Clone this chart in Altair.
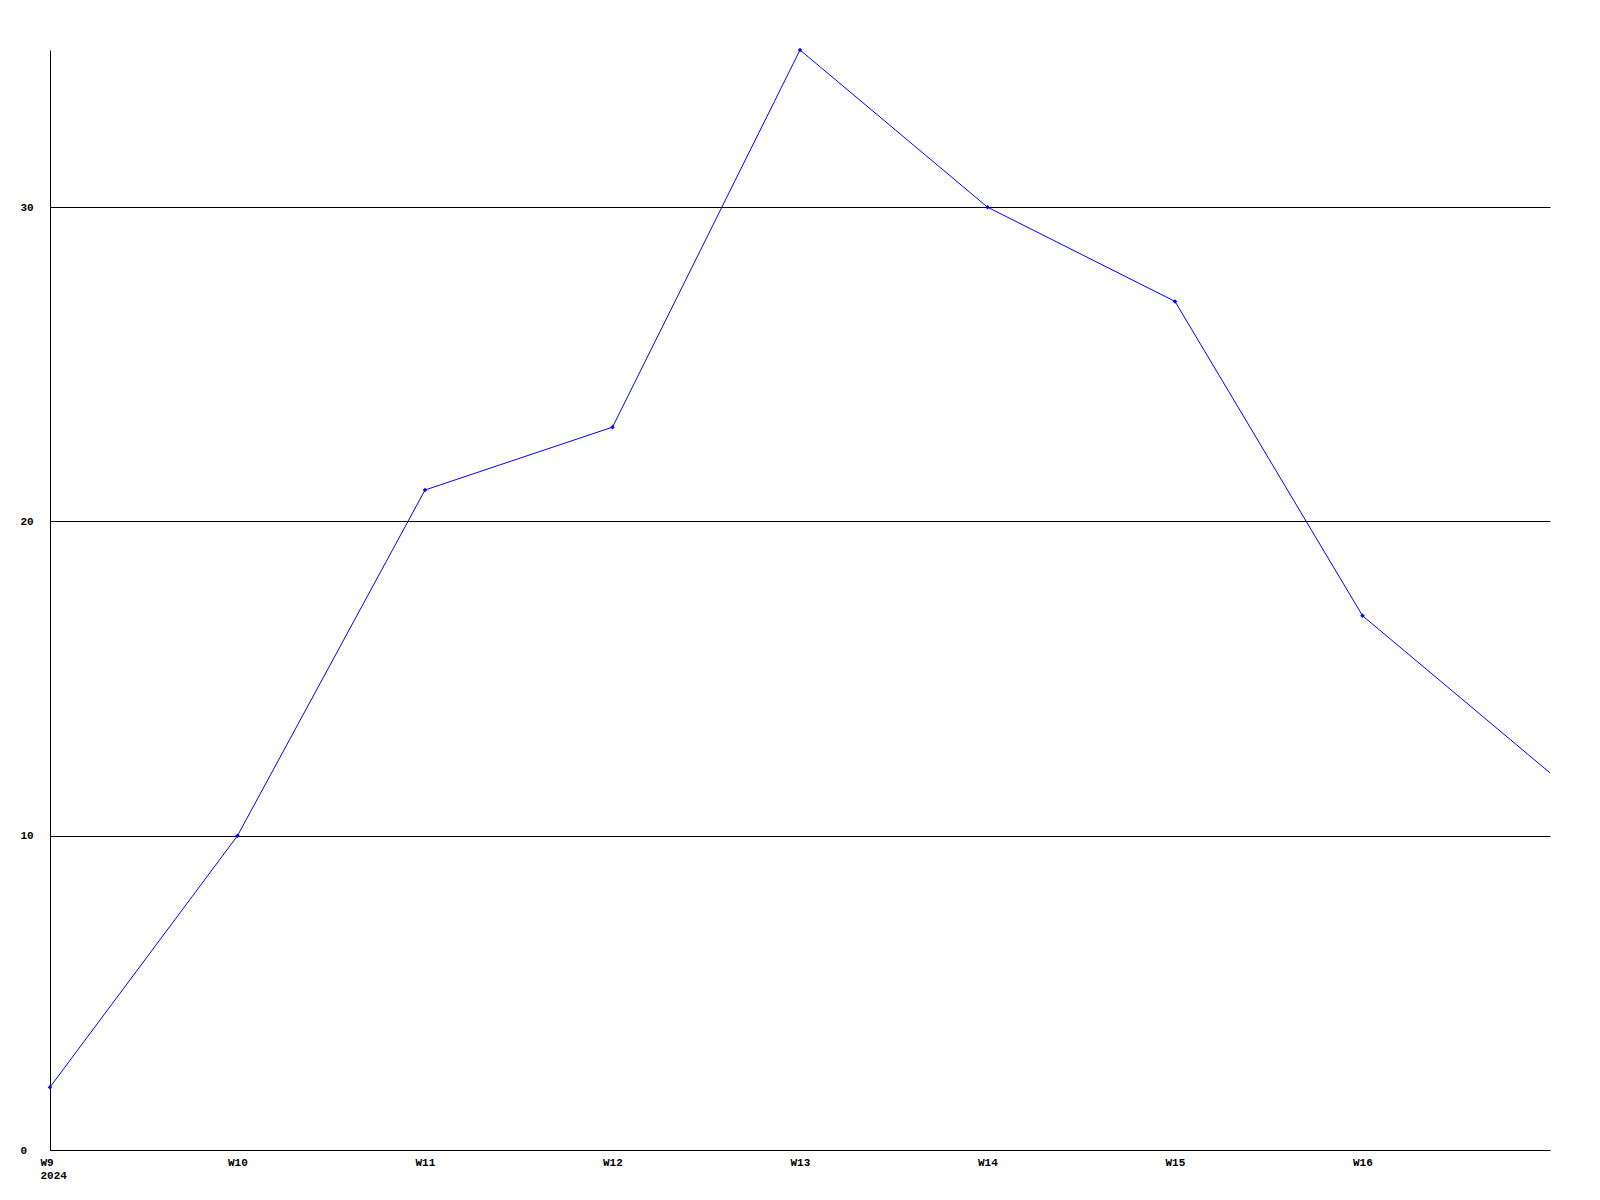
import altair as alt
import pandas as pd

weeks = [9, 10, 11, 12, 13, 14, 15, 16, 17]
values = [2, 10, 21, 23, 35, 30, 27, 17, 12]
tick_weeks = [9, 10, 11, 12, 13, 14, 15, 16]
y_ticks = [0, 10, 20, 30]
year_label = "2024"

df = pd.DataFrame({"week": weeks, "value": values})

font = "Liberation Mono"

x = alt.X(
    "week:Q",
    scale=alt.Scale(domain=[9, 17], nice=False, zero=False),
    axis=alt.Axis(
        values=tick_weeks,
        labelExpr=f"datum.value == 9 ? ['W9', '{year_label}'] : 'W' + datum.value",
        title=None,
        grid=False,
        ticks=False,
        labelAlign="left",
        labelOffset=-10,
        labelBaseline="top",
        labelPadding=6,
        labelLineHeight=13,
        labelFont=font,
        labelFontWeight="bold",
        labelFontSize=11,
        labelColor="black",
        domainColor="black",
        labelFlush=False,
        labelOverlap=False,
    ),
)
y = alt.Y(
    "value:Q",
    scale=alt.Scale(domain=[0, 35], nice=False),
    axis=alt.Axis(
        values=y_ticks,
        title=None,
        grid=True,
        gridColor="black",
        gridOpacity=1,
        gridWidth=1,
        ticks=False,
        labelAlign="left",
        labelPadding=30,
        labelBaseline="middle",
        labelFont=font,
        labelFontWeight="bold",
        labelFontSize=11,
        labelColor="black",
        domainColor="black",
        labelFlush=False,
    ),
)

line = alt.Chart(df).mark_line(color="#0000ff", strokeWidth=1).encode(x=x, y=y)
pts = (
    alt.Chart(df)
    .transform_filter("datum.week < 17")
    .mark_point(shape="diamond", filled=True, color="#0000ff", size=20, opacity=1)
    .encode(x=x, y=y)
)

chart = (
    alt.layer(line, pts)
    .properties(
        width=1500,
        height=1100,
        background="white",
        autosize=alt.AutoSizeParams(type="none"),
        padding={"left": 42, "top": 42, "right": 10, "bottom": 40},
    )
    .configure_view(strokeWidth=0, stroke=None)
)

chart.save("out.html", embed_options={"renderer": "svg", "actions": False})
